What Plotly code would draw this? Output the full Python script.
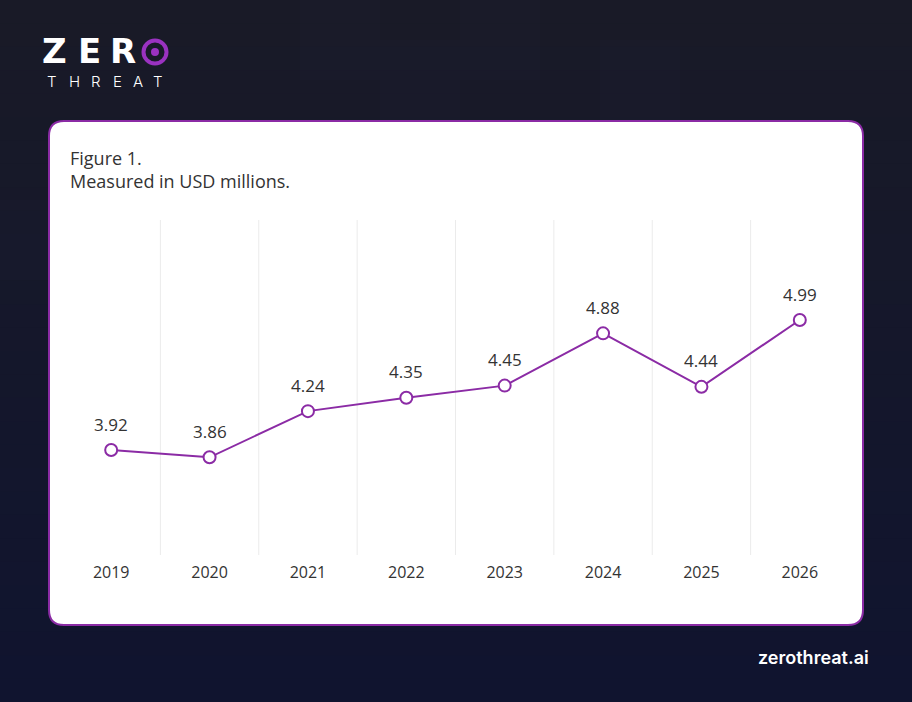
import plotly.graph_objects as go

# data
years = ["2019", "2020", "2021", "2022", "2023", "2024", "2025", "2026"]
costs = [3.92, 3.86, 4.24, 4.35, 4.45, 4.88, 4.44, 4.99]

W, H = 912, 702
PL, PR, PT, PB = 62, 849, 220, 555  # plot area in pixels

PURPLE = "#8b2ba5"
BG_TOP = (25, 26, 39)
BG_BOT = (16, 20, 47)


def px(x):
    return (x - PL) / (PR - PL)


def py(y):
    return (PB - y) / (PB - PT)


def rounded_rect(x0, y0, x1, y1, r):
    pts = [
        f"M {px(x0 + r)},{py(y0)}",
        f"L {px(x1 - r)},{py(y0)}",
        f"Q {px(x1)},{py(y0)} {px(x1)},{py(y0 + r)}",
        f"L {px(x1)},{py(y1 - r)}",
        f"Q {px(x1)},{py(y1)} {px(x1 - r)},{py(y1)}",
        f"L {px(x0 + r)},{py(y1)}",
        f"Q {px(x0)},{py(y1)} {px(x0)},{py(y1 - r)}",
        f"L {px(x0)},{py(y0 + r)}",
        f"Q {px(x0)},{py(y0)} {px(x0 + r)},{py(y0)}",
        "Z",
    ]
    return " ".join(pts)


shapes = []

# background gradient as bands
n = 30
for i in range(n):
    t = i / (n - 1)
    c = tuple(round(BG_TOP[k] + (BG_BOT[k] - BG_TOP[k]) * t) for k in range(3))
    shapes.append(dict(
        type="rect", xref="paper", yref="paper", layer="below",
        x0=px(0), x1=px(W), y0=py(H * i / n), y1=py(H * (i + 1) / n + 1),
        fillcolor=f"rgb{c}", line=dict(width=0),
    ))

# faint squares in the background
for (sx, sy) in [(300, 0), (380, 40), (0, 200), (460, 0), (600, 40)]:
    shapes.append(dict(
        type="rect", xref="paper", yref="paper", layer="below",
        x0=px(sx), x1=px(sx + 80), y0=py(sy), y1=py(sy + 80),
        fillcolor="rgba(120,90,160,0.018)", line=dict(width=0),
    ))

# white card
shapes.append(dict(
    type="path", xref="paper", yref="paper", layer="below",
    path=rounded_rect(49, 121, 863, 625, 15),
    fillcolor="white", line=dict(color=PURPLE, width=2),
))

# vertical separators between years
for i in range(len(years) - 1):
    shapes.append(dict(
        type="line", xref="x", yref="paper", layer="below",
        x0=i + 0.5, x1=i + 0.5, y0=0, y1=1,
        line=dict(color="#ebebeb", width=1),
    ))

# logo ring "O"
shapes.append(dict(
    type="circle", xref="paper", yref="paper",
    x0=px(143.5), x1=px(166.5), y0=py(63.5), y1=py(40.5),
    line=dict(color="#9a32c0", width=4), fillcolor="rgba(0,0,0,0)",
))
shapes.append(dict(
    type="circle", xref="paper", yref="paper",
    x0=px(151), x1=px(159), y0=py(56), y1=py(48),
    line=dict(width=0), fillcolor="#9a32c0",
))

fig = go.Figure()
fig.add_trace(go.Scatter(
    x=years, y=costs, mode="lines+markers",
    line=dict(color=PURPLE, width=2),
    marker=dict(symbol="circle", size=12, color="white",
                line=dict(color=PURPLE, width=2)),
    hoverinfo="skip",
))

annotations = []
# value labels (category index as x, "2019" would be read as an index)
for i, v in enumerate(costs):
    annotations.append(dict(
        x=i, y=v, xref="x", yref="y", text=f"{v:.2f}", showarrow=False,
        yshift=26, font=dict(family="Open Sans", size=17, color="#333333"),
    ))

# caption
annotations.append(dict(
    xref="paper", yref="paper", x=px(68), y=py(144), xanchor="left", yanchor="top",
    text="Figure 1.<br>Measured in USD millions.", align="left", showarrow=False,
    font=dict(family="Open Sans", size=18, color="#333333"),
))

# logo letters
for ch, cx in zip("ZER", [54, 89, 123]):
    annotations.append(dict(
        xref="paper", yref="paper", x=px(cx), y=py(51), text=ch,
        showarrow=False, xanchor="center", yanchor="middle",
        font=dict(family="DejaVu Sans", size=34, color="white", weight=700),
    ))
for ch, cx in zip("THREAT", [52, 74, 96, 117, 138, 158]):
    annotations.append(dict(
        xref="paper", yref="paper", x=px(cx), y=py(81), text=ch,
        showarrow=False, xanchor="center", yanchor="middle",
        font=dict(family="Inter", size=15, color="white", weight=300),
    ))

# footer
annotations.append(dict(
    xref="paper", yref="paper", x=px(871), y=py(657), text="zerothreat.ai",
    showarrow=False, xanchor="right", yanchor="middle",
    font=dict(family="Inter", size=18, color="white", weight=600),
))

fig.update_layout(
    width=W, height=H,
    margin=dict(l=PL, r=W - PR, t=PT, b=H - PB, pad=0),
    paper_bgcolor="#151829",
    plot_bgcolor="rgba(0,0,0,0)",
    showlegend=False,
    shapes=shapes,
    annotations=annotations,
    xaxis=dict(
        type="category", range=[-0.5, 7.5], showgrid=False, zeroline=False,
        showline=False, ticks="", ticklabelstandoff=6,
        tickfont=dict(family="Open Sans", size=16, color="#333333"),
    ),
    yaxis=dict(
        range=[3.056, 5.813], showgrid=False, zeroline=False,
        showline=False, showticklabels=False, ticks="",
    ),
)

fig.write_html(
    "out.html",
    config={"displayModeBar": False},
    post_script="document.body.style.margin='0';",
)
